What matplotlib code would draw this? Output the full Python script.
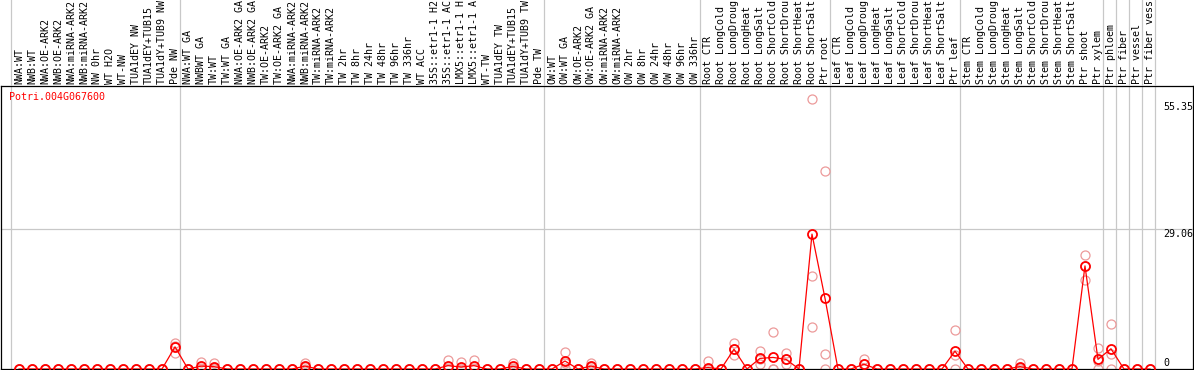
import numpy as np
import matplotlib.pyplot as plt

gene = "Potri.004G067600"

samples = [
    # NW
    "NWA:WT", "NWB:WT", "NWA:OE-ARK2", "NWB:OE-ARK2", "NWA:miRNA-ARK2",
    "NWB:miRNA-ARK2", "NW 0hr", "WT H2O", "WT-NW", "TUA1dEY NW",
    "TUA1dEY+TUB15", "TUA1dY+TUB9 NW", "Pde NW",
    # TW
    "NWA:WT GA", "NWBWT GA", "TW:WT", "TW:WT GA", "NWA:OE-ARK2 GA",
    "NWB:OE-ARK2 GA", "TW:OE-ARK2", "TW:OE-ARK2 GA", "NWA:miRNA-ARK2",
    "NWB:miRNA-ARK2", "TW:miRNA-ARK2", "TW:miRNA-ARK2", "TW 2hr", "TW 8hr",
    "TW 24hr", "TW 48hr", "TW 96hr", "TW 336hr", "WT ACC",
    "35S::etr1-1 H2O", "35S::etr1-1 ACC", "LMX5::etr1-1 H2O",
    "LMX5::etr1-1 ACC", "WT-TW", "TUA1dEY TW", "TUA1dEY+TUB15",
    "TUA1dY+TUB9 TW", "Pde TW",
    # OW
    "OW:WT", "OW:WT GA", "OW:OE-ARK2", "OW:OE-ARK2 GA", "OW:miRNA-ARK2",
    "OW:miRNA-ARK2", "OW 2hr", "OW 8hr", "OW 24hr", "OW 48hr", "OW 96hr",
    "OW 336hr",
    # root
    "Root CTR", "Root LongCold", "Root LongDrought", "Root LongHeat",
    "Root LongSalt", "Root ShortCold", "Root ShortDrought", "Root ShortHeat",
    "Root ShortSalt", "Ptr root",
    # leaf
    "Leaf CTR", "Leaf LongCold", "Leaf LongDrought", "Leaf LongHeat",
    "Leaf LongSalt", "Leaf ShortCold", "Leaf ShortDrought", "Leaf ShortHeat",
    "Leaf ShortSalt", "Ptr leaf",
    # stem
    "Stem CTR", "Stem LongCold", "Stem LongDrought", "Stem LongHeat",
    "Stem LongSalt", "Stem ShortCold", "Stem ShortDrought", "Stem ShortHeat",
    "Stem ShortSalt", "Ptr shoot", "Ptr xylem",
    # wood cells
    "Ptr phloem", "Ptr fiber", "Ptr vessel", "Ptr fiber vessel",
]
group_sizes = [13, 28, 12, 10, 10, 11, 1, 1, 1, 1]

mean_vals = [
    0, 0, 0, 0, 0, 0, 0, 0, 0, 0, 0, 0, 4.6,
    0, 0.6, 0.5, 0, 0, 0, 0, 0, 0, 0.6, 0, 0, 0, 0, 0, 0, 0, 0, 0, 0,
    0.7, 0.4, 0.7, 0, 0, 0.55, 0, 0,
    0, 1.66, 0, 0.6, 0, 0, 0, 0, 0, 0, 0, 0,
    0.3, 0, 4.1, 0, 2.2, 2.4, 2.0, 0, 28.0, 14.7,
    0, 0, 1.0, 0, 0, 0, 0, 0, 0, 3.7,
    0, 0, 0, 0, 0.5, 0, 0, 0, 0, 21.4, 2.0,
    4.2, 0, 0, 0,
]
rep_hi = [
    0, 0, 0, 0, 0, 0, 0, 0, 0, 0, 0, 0, 5.5,
    0, 1.5, 1.2, 0, 0, 0, 0, 0, 0, 1.3, 0, 0, 0, 0, 0, 0, 0, 0, 0, 0,
    1.9, 1.4, 1.8, 0, 0, 1.3, 0, 0,
    0, 3.5, 0, 1.2, 0, 0, 0, 0, 0, 0, 0, 0,
    1.66, 0, 5.5, 0, 3.7, 7.7, 3.4, 0, 56.1, 41.0,
    0, 0, 2.0, 0, 0, 0, 0, 0, 0, 8.1,
    0, 0, 0, 0, 1.2, 0, 0, 0, 0, 23.7, 4.4,
    9.3, 0, 0, 0,
]
rep_mid = [
    0, 0, 0, 0, 0, 0, 0, 0, 0, 0, 0, 0, 4.8,
    0, 0.3, 0.3, 0, 0, 0, 0, 0, 0, 0.4, 0, 0, 0, 0, 0, 0, 0, 0, 0, 0,
    0.2, 0, 0.3, 0, 0, 0.3, 0, 0,
    0, 1.3, 0, 0.5, 0, 0, 0, 0, 0, 0, 0, 0,
    0, 0, 4.1, 0, 2.0, 0, 2.0, 0, 19.3, 3.1,
    0, 0, 1.0, 0, 0, 0, 0, 0, 0, 2.9,
    0, 0, 0, 0, 0.3, 0, 0, 0, 0, 21.4, 1.6,
    3.1, 0, 0, 0,
]
rep_lo = [
    0, 0, 0, 0, 0, 0, 0, 0, 0, 0, 0, 0, 3.3,
    0, 0, 0, 0, 0, 0, 0, 0, 0, 0, 0, 0, 0, 0, 0, 0, 0, 0, 0, 0,
    0, 0, 0, 0, 0, 0, 0, 0,
    0, 0.2, 0, 0, 0, 0, 0, 0, 0, 0, 0, 0,
    0, 0, 2.9, 0, 1.0, 0, 1.0, 0, 8.65, 0,
    0, 0, 0, 0, 0, 0, 0, 0, 0, 0,
    0, 0, 0, 0, 0, 0, 0, 0, 0, 18.5, 0,
    0, 0, 0, 0,
]
ytick_vals = [0, 29.06, 55.35]

mono = "DejaVu Sans Mono"
fs = 7.2
red = "#ff0000"
pink = "#ec9a9a"
grey = "#c8c8c8"
max_chars = 14  # label strip only has room for this many

fig = plt.figure(figsize=(11.94, 3.70), dpi=100)
ax = fig.add_axes([1 / 1194, 1 / 370, 1192 / 1194, 283 / 370])
top = fig.add_axes([1 / 1194, 284 / 370, 1192 / 1194, 86 / 370], sharex=ax)

x = np.arange(len(samples))

# group separators
bounds = np.cumsum([0] + group_sizes) - 0.6
for b in bounds:
    ax.axvline(b, color=grey, lw=0.9, zorder=0)
    top.axvline(b, color=grey, lw=0.9, zorder=0)
ax.axhline(29.06, color=grey, lw=0.9, zorder=0)

# replicates then means
for r in (rep_hi, rep_mid, rep_lo):
    ax.plot(x, r, ls="none", marker="o", ms=6.5, mfc="none", mec=pink, mew=0.9, zorder=2)
ax.plot(x, mean_vals, color=red, lw=0.9, marker="o", ms=6.5, mfc="none",
        mec=red, mew=1.3, zorder=3)

ax.set_xlim(-1.385, 90.31)
ax.set_ylim(0, 58.74)
ax.set_xticks([])
ax.set_yticks([])
for s in ax.spines.values():
    s.set_linewidth(0.9)
    s.set_color("black")

for v in ytick_vals:
    ax.text(88.0, v + (0.25 if v == 0 else 0), f"{v:g}", ha="left",
            va="bottom" if v == 0 else "top", family=mono, fontsize=fs)

ax.text(8 / 1192, 1 - 11 / 283, gene, transform=ax.transAxes, color=red,
        ha="left", va="center", family=mono, fontsize=fs)

# sample labels
top.set_ylim(0, 1)
top.axis("off")
for i, name in enumerate(samples):
    top.text(i, 0.02, name[:max_chars], rotation=90, ha="center", va="bottom",
             family=mono, fontsize=fs)

fig.savefig("out.png", dpi=100)
